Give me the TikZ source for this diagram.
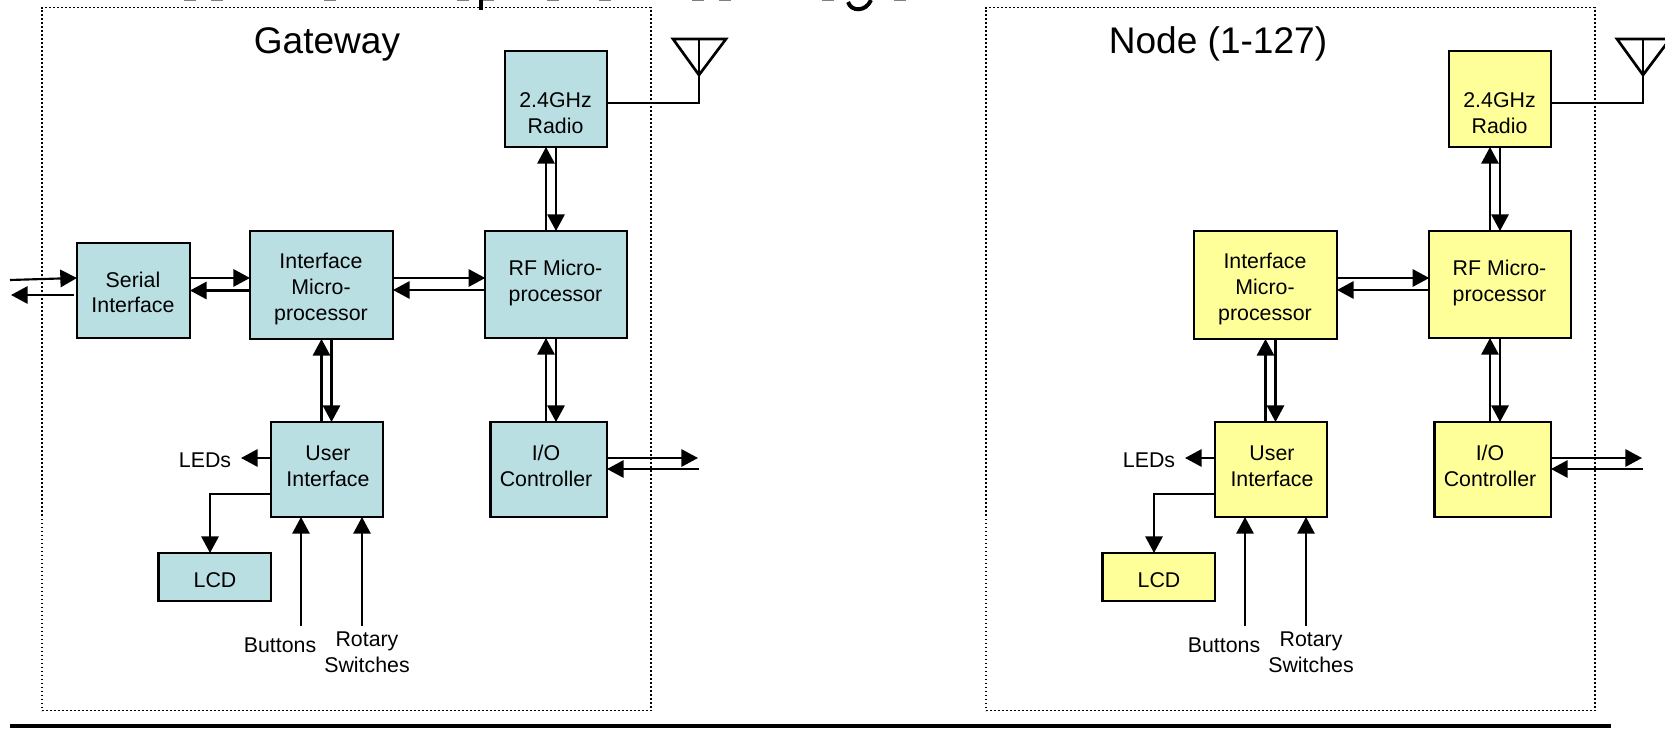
\documentclass[tikz,border=0pt]{standalone}
\usepackage{fontspec}
\setmainfont{Liberation Sans}
\usetikzlibrary{arrows.meta}
\tikzset{
  blk/.style n args={2}{draw=black,line width=1.7pt,fill=panelfill,outer sep=0pt,inner sep=0pt,
     minimum width=#1*.75pt,minimum height=#2*.75pt},
  txt/.style={align=center,inner sep=0pt,font=\fontsize{16}{19.3}\selectfont},
  heading/.style={anchor=base,inner sep=0pt,font=\fontsize{27.8}{33}\selectfont},
  arr/.style={line width=1.6pt,-{Triangle[length=12.5pt,width=13pt]}},
  wire/.style={line width=2pt},
  thinarr/.style={line width=1.3pt,-{Triangle[length=12.5pt,width=13pt]}},
  frame/.style={draw=black,line width=1.1pt,dash pattern=on 1.4pt off 1.6pt},
  remnant/.style={draw=black!50,line width=1pt}
}
\newcommand{\panel}[1]{%
\begin{scope}[name prefix=#1-]
  \node[frame,minimum width=456.75pt,minimum height=527.25pt,outer sep=0pt,inner sep=0pt] (frame) at (346.5,359) {};
  \node[blk={102}{96}]   (radio)  at (556,99) {};
  \node[blk={143}{108}]  (iface)  at (321.5,285) {};
  \node[blk={141.5}{107}] (rf)    at (556,284.5) {};
  \node[blk={112}{95}]   (user)   at (327,469.5) {};
  \node[blk={116.5}{95}] (io)     at (548.75,469.5) {};
  \node[blk={112.6}{48}] (lcd)    at (214.7,577) {};
  \node[txt] (radiot) at (555.5,113.5) {2.4GHz\\Radio};
  \node[txt] (rft)    at (555.5,283) {RF Micro-\\processor};
  \node[txt] (ift)    at (321,289) {Interface\\Micro-\\processor};
  \node[txt] (usert)  at (328,466) {User\\Interface};
  \node[txt] (iot)    at (546,466) {I/O\\Controller};
  \node[txt] (lcdt)   at (215,580.5) {LCD};
  \node[txt] (leds)   at (205,460) {LEDs};
  \node[txt] (btn)    at (280,645) {Buttons};
  \node[txt] (rot)    at (367,652) {Rotary\\Switches};
  % antenna
  \coordinate (anttop)  at (699,39);
  \coordinate (antl)    at (673,39);
  \coordinate (antr)    at (726,39);
  \coordinate (anttip)  at (699,75);
  \coordinate (antfoot) at (699,103);
  \draw[wire,line join=miter] (antl) -- (antr) -- (anttip) -- cycle;
  \draw[wire] (anttop) -- (antfoot) -- (antfoot -| radio.east);
  % radio - rf
  \draw[arr] ([xshift=-7.5pt]rf.north) -- ([xshift=-7.5pt]rf.north |- radio.south);
  \draw[arr] (rf.north |- radio.south) -- (rf.north);
  % iface - rf
  \draw[arr] ([yshift=5.25pt]iface.east) -- ([yshift=5.25pt]iface.east -| rf.west);
  \draw[arr] ([yshift=-3.75pt]rf.west |- iface.east) -- ([yshift=-3.75pt]iface.east);
  % iface - user
  \draw[arr] (iface.south |- user.north) -- (iface.south);
  \draw[arr] ([xshift=7.5pt]iface.south) -- ([xshift=7.5pt]iface.south |- user.north);
  % rf - io
  \draw[arr] ([xshift=-7.5pt]rf.south |- io.north) -- ([xshift=-7.5pt]rf.south);
  \draw[arr] (rf.south) -- (rf.south |- io.north);
  % user outputs
  \coordinate (ledrow) at (271,458);
  \draw[arr] (ledrow) -- ++(-22.5pt,0);
  \coordinate (lcdbend) at (210,494);
  \draw[arr] (lcdbend -| user.west) -- (lcdbend) -- (lcdbend |- lcd.north);
  % user inputs
  \coordinate (btnend) at (301,626);
  \coordinate (rotend) at (362,626);
  \draw[thinarr] (btnend) -- (btnend |- user.south);
  \draw[thinarr] (rotend) -- (rotend |- user.south);
  % io outside
  \coordinate (ioout) at (698,458);
  \coordinate (ioin)  at (699,469);
  \draw[arr] (ioout -| io.east) -- (ioout);
  \draw[arr] (ioin) -- (ioin -| io.east);
\end{scope}}
\begin{document}
\begin{tikzpicture}[x=.75pt,y=-.75pt]
\definecolor{tealfill}{HTML}{B9DFE2}
\definecolor{yellowfill}{HTML}{FFFF99}
\useasboundingbox (0,0) rectangle (1665,728);
% remnants of the cut-off slide title
\foreach \xa in {190,217,330,463,488,553,605,698,725,828,900}
  \draw[remnant] (\xa-6,0.3) -- (\xa+6,0.3);
\fill[black] (478.5,0) rectangle (483,10);
\draw[line width=3pt,black] (848,2) .. controls (851,12) and (866,12) .. (871,0);
% bottom rule
\fill[black] (10,724) rectangle (1610.5,728);
% Gateway
\colorlet{panelfill}{tealfill}
\panel{gw}
\node[blk={113}{95}] (serial) at (133.5,290.5) {};
\node[txt] (serialt) at (133,292.5) {Serial\\Interface};
\draw[arr] ([yshift=9.4pt]serial.east) -- ([yshift=9.4pt]serial.east -| gw-iface.west);
\draw[arr] (gw-iface.west |- serial.east) -- (serial.east);
\coordinate (serin)  at (10,280);
\coordinate (serout) at (11,295);
\coordinate (seroutstart) at (74,295);
\draw[arr] (serin) -- ([yshift=9.4pt]serial.west);
\draw[arr] (seroutstart) -- (serout);
\node[heading] (gwtitle) at (327,53) {Gateway};
% Node
\colorlet{panelfill}{yellowfill}
\begin{scope}[xshift=708pt]
\panel{nd}
\end{scope}
\node[heading] (ndtitle) at (1218,53) {Node (1-127)};
\end{tikzpicture}
\end{document}
